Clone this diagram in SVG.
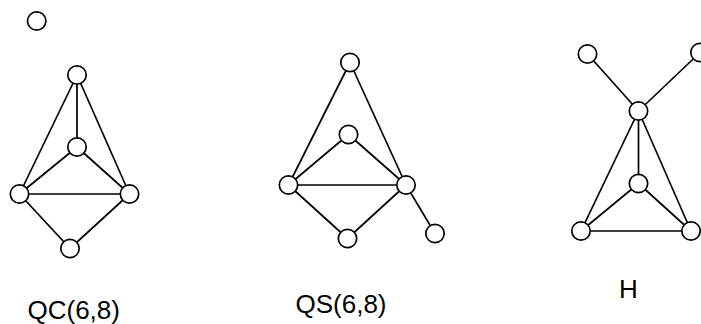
<svg xmlns="http://www.w3.org/2000/svg" width="701" height="324" viewBox="0 0 701 324">
<style>
.n{fill:#fff;stroke:#000;stroke-width:1.7}
.e{stroke:#000;stroke-width:1.7;fill:none}
.t{font-family:"Liberation Sans",Arial,sans-serif;font-size:26px;fill:#000}
</style>
<rect width="701" height="324" fill="#fff"/>
<g id="connectors">
<line class="e" x1="77" y1="75" x2="19.5" y2="194"/>
<line class="e" x1="77" y1="75" x2="129.5" y2="194"/>
<line class="e" x1="77" y1="75" x2="77" y2="147"/>
<line class="e" x1="77" y1="147" x2="19.5" y2="194"/>
<line class="e" x1="77" y1="147" x2="129.5" y2="194"/>
<line class="e" x1="19.5" y1="194" x2="129.5" y2="194"/>
<line class="e" x1="19.5" y1="194" x2="70" y2="248.5"/>
<line class="e" x1="129.5" y1="194" x2="70" y2="248.5"/>
<line class="e" x1="350" y1="62.5" x2="288.5" y2="185"/>
<line class="e" x1="350" y1="62.5" x2="406" y2="185"/>
<line class="e" x1="348.5" y1="134.5" x2="288.5" y2="185"/>
<line class="e" x1="348.5" y1="134.5" x2="406" y2="185"/>
<line class="e" x1="288.5" y1="185" x2="406" y2="185"/>
<line class="e" x1="288.5" y1="185" x2="347.5" y2="238.5"/>
<line class="e" x1="406" y1="185" x2="347.5" y2="238.5"/>
<line class="e" x1="406" y1="185" x2="435" y2="233.5"/>
<line class="e" x1="587.5" y1="54" x2="638.5" y2="111"/>
<line class="e" x1="700" y1="52.5" x2="638.5" y2="111"/>
<line class="e" x1="638.5" y1="111" x2="638.5" y2="183.5"/>
<line class="e" x1="638.5" y1="111" x2="581" y2="231"/>
<line class="e" x1="638.5" y1="111" x2="691" y2="231"/>
<line class="e" x1="638.5" y1="183.5" x2="581" y2="231"/>
<line class="e" x1="638.5" y1="183.5" x2="691" y2="231"/>
<line class="e" x1="581" y1="231" x2="691" y2="231"/>
</g>
<g id="qc-iso"><circle class="n" cx="36.7" cy="21" r="9.2"/></g>
<g id="qc-top"><circle class="n" cx="77" cy="75" r="9.2"/></g>
<g id="qc-mid"><circle class="n" cx="77" cy="147" r="9.2"/></g>
<g id="qc-left"><circle class="n" cx="19.5" cy="194" r="9.2"/></g>
<g id="qc-right"><circle class="n" cx="129.5" cy="194" r="9.2"/></g>
<g id="qc-bottom"><circle class="n" cx="70" cy="248.5" r="9.2"/></g>
<g id="qs-top"><circle class="n" cx="350" cy="62.5" r="9.2"/></g>
<g id="qs-mid"><circle class="n" cx="348.5" cy="134.5" r="9.2"/></g>
<g id="qs-left"><circle class="n" cx="288.5" cy="185" r="9.2"/></g>
<g id="qs-right"><circle class="n" cx="406" cy="185" r="9.2"/></g>
<g id="qs-bottom"><circle class="n" cx="347.5" cy="238.5" r="9.2"/></g>
<g id="qs-pendant"><circle class="n" cx="435" cy="233.5" r="9.2"/></g>
<g id="h-tl"><circle class="n" cx="587.5" cy="54" r="9.2"/></g>
<g id="h-tr"><circle class="n" cx="700" cy="52.5" r="9.2"/></g>
<g id="h-center"><circle class="n" cx="638.5" cy="111" r="9.2"/></g>
<g id="h-mid"><circle class="n" cx="638.5" cy="183.5" r="9.2"/></g>
<g id="h-bl"><circle class="n" cx="581" cy="231" r="9.2"/></g>
<g id="h-br"><circle class="n" cx="691" cy="231" r="9.2"/></g>
<g id="labels">
<text class="t" x="27.5" y="318.5">QC(6,8)</text>
<text class="t" x="295.5" y="312.5">QS(6,8)</text>
<text class="t" x="619" y="298">H</text>
</g>
</svg>
